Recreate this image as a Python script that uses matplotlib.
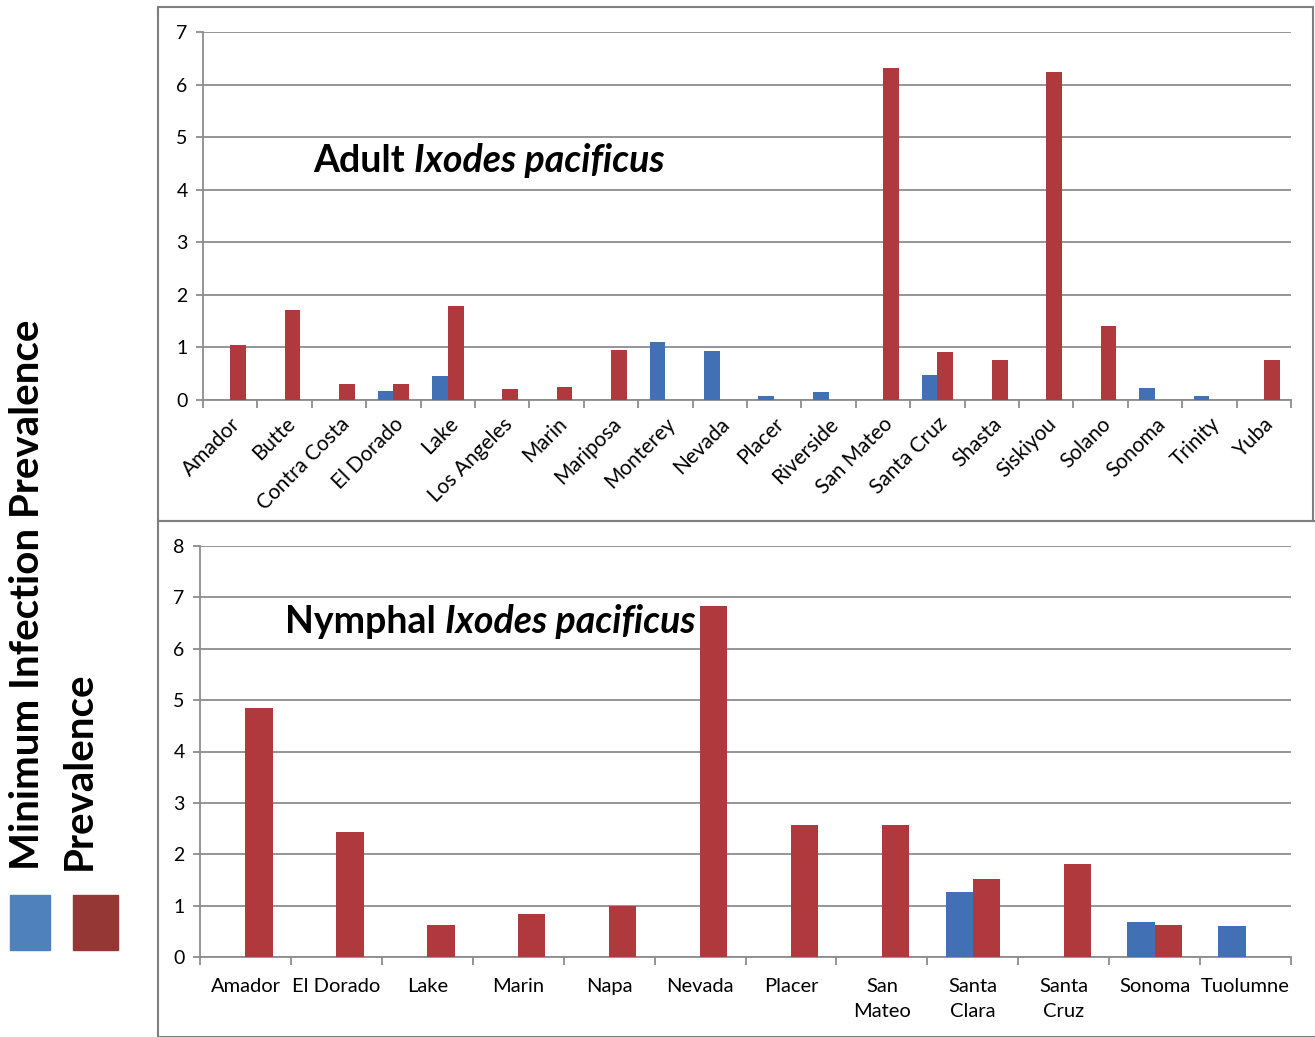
import numpy as np
import matplotlib
matplotlib.use("Agg")
import matplotlib.pyplot as plt
from matplotlib.patches import Rectangle

plt.rcParams['font.family'] = ['Lato', 'DejaVu Sans']

# adult ticks, per county
adult_counties = ["Amador", "Butte", "Contra Costa", "El Dorado", "Lake", "Los Angeles",
                  "Marin", "Mariposa", "Monterey", "Nevada", "Placer", "Riverside",
                  "San Mateo", "Santa Cruz", "Shasta", "Siskiyou", "Solano", "Sonoma",
                  "Trinity", "Yuba"]
adult_mip = [0, 0, 0, 0.17, 0.45, 0, 0, 0, 1.11, 0.93, 0.07, 0.15,
             0, 0.47, 0, 0, 0, 0.23, 0.07, 0]
adult_prev = [1.04, 1.72, 0.30, 0.30, 1.79, 0.21, 0.25, 0.95, 0, 0, 0, 0,
              6.32, 0.92, 0.77, 6.24, 1.41, 0, 0, 0.77]

# nymphal ticks
nymph_counties = ["Amador", "El Dorado", "Lake", "Marin", "Napa", "Nevada", "Placer",
                  "San\nMateo", "Santa\nClara", "Santa\nCruz", "Sonoma", "Tuolumne"]
nymph_mip = [0, 0, 0, 0, 0, 0, 0, 0, 1.26, 0, 0.69, 0.61]
nymph_prev = [4.84, 2.44, 0.63, 0.84, 1.00, 6.84, 2.56, 2.56, 1.52, 1.81, 0.63, 0]

BLUE = '#4270b4'
RED = '#b0393e'
GRID = '#8c8c8c'
W, H = 1315, 1037


def draw_panel(ax, labels, mip, prev, ymax, bw):
    x = np.arange(len(labels))
    ax.bar(x - bw / 2, mip, bw, color=BLUE, zorder=3)
    ax.bar(x + bw / 2, prev, bw, color=RED, zorder=3)
    ax.set_xlim(-0.5, len(labels) - 0.5)
    ax.set_ylim(0, ymax)
    ax.set_yticks(range(ymax + 1))
    ax.yaxis.grid(True, color=GRID, lw=1.3)
    ax.set_axisbelow(True)
    for s in ['top', 'right']:
        ax.spines[s].set_visible(False)
    for s in ['left', 'bottom']:
        ax.spines[s].set_color(GRID)
        ax.spines[s].set_linewidth(1.3)
    ax.set_xticks(x)
    ax.set_xticks(np.arange(len(labels) + 1) - 0.5, minor=True)
    ax.tick_params(axis='x', which='major', length=0)
    ax.tick_params(axis='x', which='minor', length=6, color=GRID, width=1.3)
    ax.tick_params(axis='y', length=5, color=GRID, width=1.3, labelsize=14, pad=6)
    return x


fig = plt.figure(figsize=(W / 100, H / 100), dpi=100)

# top panel
ax1 = fig.add_axes([203 / W, 1 - 400 / H, (1291 - 203) / W, (400 - 32) / H])
x1 = draw_panel(ax1, adult_counties, adult_mip, adult_prev, 7, 0.29)
ax1.set_xticklabels(adult_counties, rotation=45, ha='right', va='top',
                    rotation_mode='anchor', fontsize=15)
ax1.tick_params(axis='x', which='major', pad=10)

# bottom panel
ax2 = fig.add_axes([200 / W, 1 - 957 / H, (1291 - 200) / W, (957 - 546) / H])
x2 = draw_panel(ax2, nymph_counties, nymph_mip, nymph_prev, 8, 0.3)
ax2.set_xticklabels(nymph_counties, fontsize=14.5, linespacing=1.6)
ax2.tick_params(axis='x', which='major', pad=15)

# panel titles (bold upright word + bold italic species name)
t = fig.text(313 / W, 1 - 172 / H, "Adult ", fontsize=27, weight='bold', va='baseline')
ax1.annotate("Ixodes pacificus", xy=(1, 0), xycoords=t, va='bottom',
             fontsize=27, weight='bold', style='italic')
t2 = fig.text(285 / W, 1 - 633 / H, "Nymphal ", fontsize=27, weight='bold', va='baseline')
ax2.annotate("Ixodes pacificus", xy=(1, 0), xycoords=t2, va='bottom',
             fontsize=27, weight='bold', style='italic')

# panel frames
fig.patches.append(Rectangle((158 / W, 1 - 521 / H), (1313 - 158) / W, (521 - 7) / H,
                             transform=fig.transFigure, fill=False, ec='#7f7f7f', lw=1.5))
fig.patches.append(Rectangle((158 / W, 0), (1316 - 158) / W, 1 - 521 / H,
                             transform=fig.transFigure, fill=False, ec='#7f7f7f', lw=1.5))

# legend on the left
fig.text(28 / W, 1 - 870 / H, "Minimum Infection Prevalence", rotation=90,
         ha='center', va='bottom', fontsize=29, weight='bold')
fig.text(79 / W, 1 - 870 / H, "Prevalence", rotation=90,
         ha='center', va='bottom', fontsize=29, weight='bold')
fig.patches.append(Rectangle((10 / W, 1 - 950 / H), 40 / W, 55 / H,
                             transform=fig.transFigure, color='#4f81bd'))
fig.patches.append(Rectangle((73 / W, 1 - 950 / H), 45 / W, 55 / H,
                             transform=fig.transFigure, color='#953735'))

fig.savefig("out.png", dpi=100)
